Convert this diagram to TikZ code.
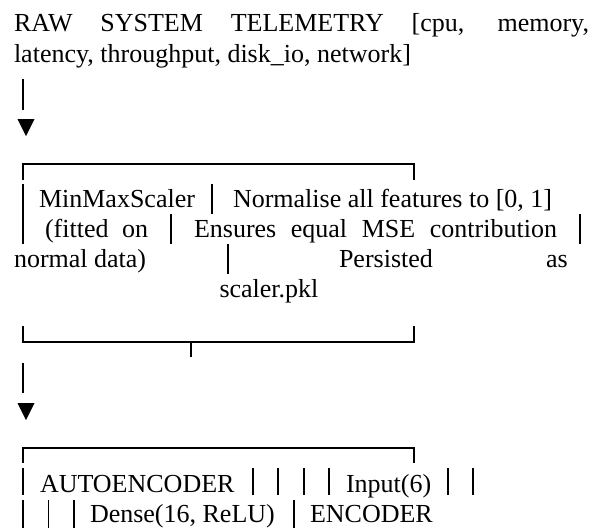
\documentclass[tikz,border=0pt]{standalone}
\usepackage{fontspec}
\setmainfont{Liberation Serif}
\tikzset{
  txt/.style={anchor=base west, inner sep=0pt, outer sep=0pt},
  rule/.style={line width=1.8pt},
  tipfill/.style={fill=black}
}
\begin{document}
\begin{tikzpicture}[x=1pt, y=-1pt]
\useasboundingbox (0,0) rectangle (601,527);
\fontsize{26pt}{30pt}\selectfont
% input line
\node[txt] (raw) at (14,32) {\makebox[575pt][s]{RAW SYSTEM TELEMETRY [cpu, memory,}};
\node[txt] (feat) at (14,62) {latency, throughput, disk\_io, network]};
% arrow into the scaler box
\coordinate (barAtop) at (23,79);
\coordinate (barAbot) at (23,110);
\draw[rule] (barAtop) -- (barAbot);
\coordinate (tipA) at (26,119);
\fill[tipfill] (tipA) ++(-8.5,0) -- ++(17,0) -- ++(-8.5,17) -- cycle;
% scaler box
\draw[rule] (22.7,180) -- (22.7,164) -- (414,164) -- (414,180);
\node[txt] (mms) at (39,207) {MinMaxScaler};
\node[txt] (norm) at (233,207) {Normalise all features to [0, 1]};
\node[txt] (fit) at (45,237) {\makebox[103pt][s]{(fitted on}};
\node[txt] (mse) at (194,237) {\makebox[363pt][s]{Ensures equal MSE contribution}};
\node[txt] (ndata) at (14,267) {normal data)};
\node[txt] (pers) at (339,267) {Persisted};
\node[txt] (as) at (546,267) {as};
\node[txt] (pkl) at (219.5,297) {scaler.pkl};
\foreach \x/\y in {22.7/207, 212/207, 22.7/237, 171/237, 580/237, 228/267}
  \draw[rule] (\x,\y-23) -- (\x,\y+7);
\draw[rule] (22.7,326) -- (22.7,341.7) -- (414,341.7) -- (414,326);
\draw[rule] (190.7,341.7) -- (190.7,357);
% arrow into the autoencoder box
\coordinate (barBtop) at (23,363);
\coordinate (barBbot) at (23,393);
\draw[rule] (barBtop) -- (barBbot);
\coordinate (tipB) at (26,403);
\fill[tipfill] (tipB) ++(-8.5,0) -- ++(17,0) -- ++(-8.5,17) -- cycle;
% autoencoder box
\draw[rule] (22.7,463) -- (22.7,448.3) -- (414,448.3) -- (414,463);
\node[txt] (ae) at (40,492) {AUTOENCODER};
\node[txt] (inp) at (346,492) {Input(6)};
\node[txt] (dense) at (90,522) {Dense(16, ReLU)};
\node[txt] (enc) at (310,522) {ENCODER};
\foreach \x in {22.7, 253, 278, 304, 329, 448, 473}
  \draw[rule] (\x,492-24) -- (\x,492+3);
\foreach \x in {22.7, 48.4, 73.8, 294}
  \draw[rule] (\x,522-22) -- (\x,522+8);
\end{tikzpicture}
\end{document}
